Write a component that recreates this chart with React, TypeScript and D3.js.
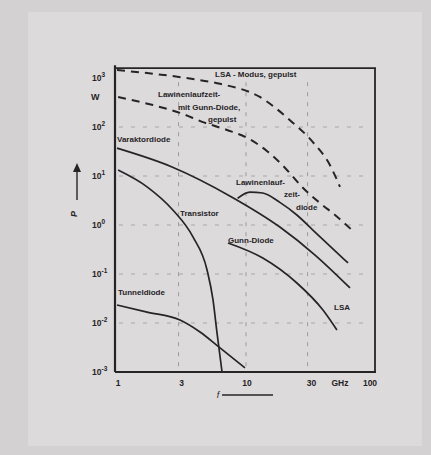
import React from "react";
import * as d3 from "d3";

type Pt = [number, number];

const xTicks = [1, 3, 10, 30, 100];
const xTickLabels = ["1", "3", "10", "30", "100"];
const yTickExps = [3, 2, 1, 0, -1, -2, -3];
const yTickLabels = ["3", "2", "1", "0", "-1", "-2", "-3"];
const gridX = [3, 10, 30];
const gridY = [1e2, 1e1, 1e0, 1e-1, 1e-2];

const lsaPulsed: Pt[] = [
  [1, 1450], [1.71, 1260], [3.88, 955], [6.29, 760], [12.8, 410], [21.9, 138],
  [33, 49], [44.8, 16.6], [53.5, 6],
];
const impattGunnPulsed: Pt[] = [
  [1.02, 410], [1.9, 280], [3.08, 194], [4.64, 126], [7.12, 87], [10.2, 60],
  [14.5, 32.5], [20.1, 14.6], [27.7, 5.7], [37.5, 2.8], [49, 1.6], [70, 0.69],
];
const varactor: Pt[] = [
  [1, 37], [2.67, 15.3], [7.79, 3.7], [18.3, 0.91], [34.3, 0.244], [64, 0.052],
];
const transistor: Pt[] = [
  [1.02, 13.2], [1.71, 6.0], [2.72, 2.0], [3.88, 0.57], [4.99, 0.121],
  [5.55, 0.0295], [5.96, 0.0063], [6.52, 0.001],
];
const tunnel: Pt[] = [
  [1, 0.0233], [1.71, 0.0167], [3.08, 0.0115], [4.4, 0.00655], [6.29, 0.0031],
  [9.82, 0.00121],
];
const impatt: Pt[] = [
  [8.6, 3.5], [10.7, 4.7], [13.5, 4.5], [18.3, 2.9], [24.8, 1.6], [33, 0.79],
  [61.8, 0.168],
];
const gunn: Pt[] = [
  [7.25, 0.43], [13.5, 0.212], [24.8, 0.0655], [39.5, 0.0184], [50.7, 0.0072],
];

const W = 431;
const H = 455;

export default function App() {
  const x = d3.scaleLog().domain([1, 100]).range([117, 375]);
  const y = d3.scaleLog().domain([1e-3, 1e3]).range([372, 78]);
  const top = y(10 ** 3.2);
  const left = x(1) - 2;
  const right = x(100);
  const bottom = y(1e-3);

  const line = d3
    .line<Pt>()
    .x((d) => x(d[0]))
    .y((d) => y(d[1]))
    .curve(d3.curveMonotoneX);

  const ink = "#262426";
  const font = "'Liberation Sans', Arial, sans-serif";

  const solid = [varactor, transistor, tunnel, impatt, gunn];
  const dashed = [lsaPulsed, impattGunnPulsed];

  const labels: { t: string; x: number; y: number }[] = [
    { t: "LSA - Modus, gepulst", x: 215, y: 77 },
    { t: "Lawinenlaufzeit-", x: 158, y: 97 },
    { t: "mit Gunn-Diode,", x: 178, y: 110 },
    { t: "gepulst", x: 208, y: 122 },
    { t: "Varaktordiode", x: 117, y: 142 },
    { t: "Lawinenlauf-", x: 236, y: 185 },
    { t: "zeit-", x: 284, y: 197 },
    { t: "diode", x: 296, y: 210 },
    { t: "Transistor", x: 180, y: 216 },
    { t: "Gunn-Diode", x: 228, y: 243 },
    { t: "LSA", x: 334, y: 310 },
    { t: "Tunneldiode", x: 118, y: 295 },
  ];

  return (
    <svg
      width={W}
      height={H}
      style={{ position: "absolute", left: 0, top: 0, display: "block" }}
      fontFamily={font}
    >
      <rect x={0} y={0} width={W} height={H} fill="#d4d1d3" />
      <rect x={28} y={12} width={394} height={434} fill="#dddadc" />

      {gridX.map((g) => (
        <line
          key={"gx" + g}
          x1={x(g)}
          x2={x(g)}
          y1={top + 14}
          y2={bottom}
          stroke="#6a686a"
          strokeOpacity={0.55}
          strokeWidth={1}
          strokeDasharray="4 6"
        />
      ))}
      {gridY.map((g) => (
        <line
          key={"gy" + g}
          x1={left + 4}
          x2={right - 4}
          y1={y(g)}
          y2={y(g)}
          stroke="#6a686a"
          strokeOpacity={0.45}
          strokeWidth={1}
          strokeDasharray="4 8"
        />
      ))}

      <line x1={left} x2={left} y1={top - 3} y2={bottom} stroke={ink} strokeWidth={2.2} />
      <line x1={left} x2={right + 1} y1={top} y2={top} stroke={ink} strokeWidth={1.8} />
      <line x1={right} x2={right} y1={top} y2={bottom} stroke={ink} strokeWidth={1.8} />
      <line x1={left} x2={right + 1} y1={bottom} y2={bottom} stroke={ink} strokeWidth={2} />

      {dashed.map((d, i) => (
        <path
          key={"d" + i}
          d={line(d) || ""}
          fill="none"
          stroke={ink}
          strokeWidth={2}
          strokeDasharray="8 6"
        />
      ))}
      {solid.map((d, i) => (
        <path key={"s" + i} d={line(d) || ""} fill="none" stroke={ink} strokeWidth={1.7} />
      ))}

      {labels.map((l, i) => (
        <text key={"l" + i} x={l.x} y={l.y} fontSize={8} fill={ink} fontWeight="bold">
          {l.t}
        </text>
      ))}

      {yTickExps.map((e, i) => (
        <text
          key={"yt" + e}
          x={92}
          y={y(10 ** e) + 3}
          fontSize={8.5}
          fill={ink}
          fontWeight="bold"
        >
          10
          <tspan dy={-4} fontSize={6.5}>
            {yTickLabels[i]}
          </tspan>
        </text>
      ))}
      <text x={91} y={100} fontSize={9} fill={ink} fontWeight="bold">
        W
      </text>

      <line x1={77} x2={77} y1={200} y2={168} stroke={ink} strokeWidth={1.4} />
      <path d="M73,172 L77,163 L81,172 Z" fill={ink} />
      <text
        x={77}
        y={214}
        fontSize={9}
        fill={ink}
        fontStyle="italic"
        textAnchor="middle"
        transform="rotate(-90 77 214)"
        fontWeight="bold"
      >
        P
      </text>

      {xTicks.map((t, i) => (
        <text
          key={"xt" + t}
          x={x(t) + (t === 30 ? 4 : t === 100 ? -5 : t === 3 ? 3 : 1)}
          y={386}
          fontSize={8.5}
          fill={ink}
          textAnchor="middle"
          fontWeight="bold"
        >
          {xTickLabels[i]}
        </text>
      ))}
      <text x={340} y={386} fontSize={8.5} fill={ink} textAnchor="middle" fontWeight="bold">
        GHz
      </text>
      <text x={218} y={398} fontSize={9} fill={ink} fontStyle="italic" textAnchor="middle">
        f
      </text>
      <line x1={222} x2={273} y1={395} y2={395} stroke={ink} strokeWidth={1.6} />
    </svg>
  );
}
